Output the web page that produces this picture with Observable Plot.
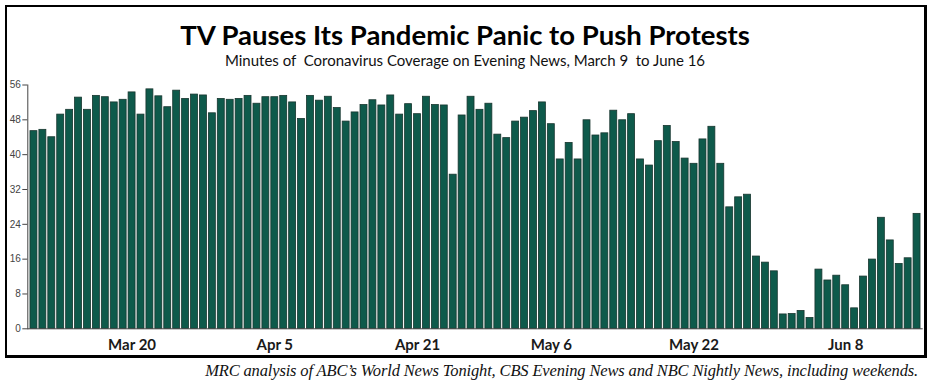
<!DOCTYPE html>
<html>
<head>
<meta charset="utf-8">
<script src="https://cdn.jsdelivr.net/npm/d3@7"></script>
<script src="https://cdn.jsdelivr.net/npm/@observablehq/plot@0.6"></script>
<style>
  html, body { margin: 0; padding: 0; background: #fff; }
  body { width: 930px; height: 385px; position: relative; overflow: hidden; }
  #frame { position: absolute; left: 5px; top: 5px; width: 917px; height: 348px;
           border: 2px solid #000; border-right-width: 3px; border-bottom-width: 3px; }
  #title { position: absolute; left: 0; top: 21px; width: 930px; text-align: center;
           font-family: Lato, sans-serif; font-weight: 700; font-size: 27.5px; color: #000; line-height: 1; }
  #subtitle { position: absolute; left: 0; top: 53px; width: 930px; text-align: center;
           font-family: Lato, sans-serif; font-size: 15px; color: #111; white-space: pre; line-height: 1; }
  #chart { position: absolute; left: 0; top: 70px; }
  #caption { position: absolute; right: 12px; top: 361px; font-family: "Liberation Serif", serif;
           font-style: italic; font-size: 16.5px; color: #111; white-space: nowrap; letter-spacing: -0.15px; }
</style>
</head>
<body>
<div id="frame"></div>
<div id="title"></div>
<div id="subtitle"></div>
<div id="chart"></div>
<div id="caption"></div>
<script>
const titleText = "TV Pauses Its Pandemic Panic to Push Protests";
const subtitleText = "Minutes of  Coronavirus Coverage on Evening News, March 9  to June 16";
const captionText = "MRC analysis of ABC\u2019s World News Tonight, CBS Evening News and NBC Nightly News, including weekends.";

const firstDay = "2020-03-09";
const lastDay = "2020-06-16";

const minutes = [
  45.4, 45.7, 44.0, 49.2, 50.3, 53.1, 50.3, 53.5, 53.2, 52.0,
  52.6, 54.3, 49.2, 55.0, 53.4, 50.9, 54.7, 52.8, 53.8, 53.6,
  49.5, 52.8, 52.6, 52.8, 53.5, 51.7, 53.2, 53.2, 53.5, 52.0,
  48.2, 53.5, 52.4, 53.3, 50.7, 47.6, 49.7, 51.4, 52.5, 51.3,
  53.6, 49.2, 51.6, 49.3, 53.3, 51.4, 51.3, 35.4, 49.0, 53.3,
  50.3, 51.7, 44.6, 43.8, 47.6, 48.5, 50.0, 52.0, 47.0, 38.9,
  42.7, 38.9, 47.9, 44.4, 44.9, 50.1, 47.9, 49.3, 38.9, 37.5,
  43.1, 46.6, 42.9, 39.1, 37.9, 43.5, 46.4, 37.9, 27.9, 30.2,
  30.8, 16.6, 15.2, 13.2, 3.3, 3.4, 4.1, 2.5, 13.6, 11.1,
  12.2, 10.0, 4.7, 12.0, 15.9, 25.5, 20.3, 14.9, 16.2, 26.4
];

const tickDates = ["2020-03-20", "2020-04-05", "2020-04-21", "2020-05-06", "2020-05-22", "2020-06-08"];
const tickLabels = ["Mar 20", "Apr 5", "Apr 21", "May 6", "May 22", "Jun 8"];
const yTicks = [0, 8, 16, 24, 32, 40, 48, 56];

const fmt = d3.utcFormat("%Y-%m-%d");
const days = d3.utcDays(new Date(firstDay), d3.utcDay.offset(new Date(lastDay), 1)).map(fmt);
const data = days.map((d, i) => ({date: d, value: minutes[i]}));

document.getElementById("title").textContent = titleText;
document.getElementById("subtitle").textContent = subtitleText;
document.getElementById("caption").textContent = captionText;

const chart = Plot.plot({
  width: 930,
  height: 290,
  marginTop: 14.5,
  marginBottom: 31.7,
  marginLeft: 27.3,
  marginRight: 7.3,
  style: {background: "transparent", overflow: "visible"},
  x: {type: "band", domain: days, paddingInner: 0.22, paddingOuter: 0.3, axis: null, label: null},
  y: {domain: [0, 56], axis: null, label: null},
  marks: [
    Plot.barY(data, {x: "date", y: "value", fill: "#0e5a4b", stroke: "#18362f", strokeWidth: 0.8}),
    Plot.ruleY([0], {stroke: "#444", strokeWidth: 1}),
    Plot.frame({anchor: "left", stroke: "#444"}),
    Plot.axisY({ticks: yTicks, tickSize: 5, tickPadding: 2, fontSize: 10, fill: "#444", stroke: "#444",
                label: null, fontFamily: "Liberation Sans, Arial, sans-serif"}),
    Plot.axisX({ticks: tickDates, tickSize: 0, tickPadding: 11, fontSize: 15, fontWeight: 700, fill: "#1a1a1a",
                label: null, fontFamily: "Lato, sans-serif",
                tickFormat: d => tickLabels[tickDates.indexOf(d)]})
  ]
});
document.getElementById("chart").appendChild(chart);
</script>
</body>
</html>
